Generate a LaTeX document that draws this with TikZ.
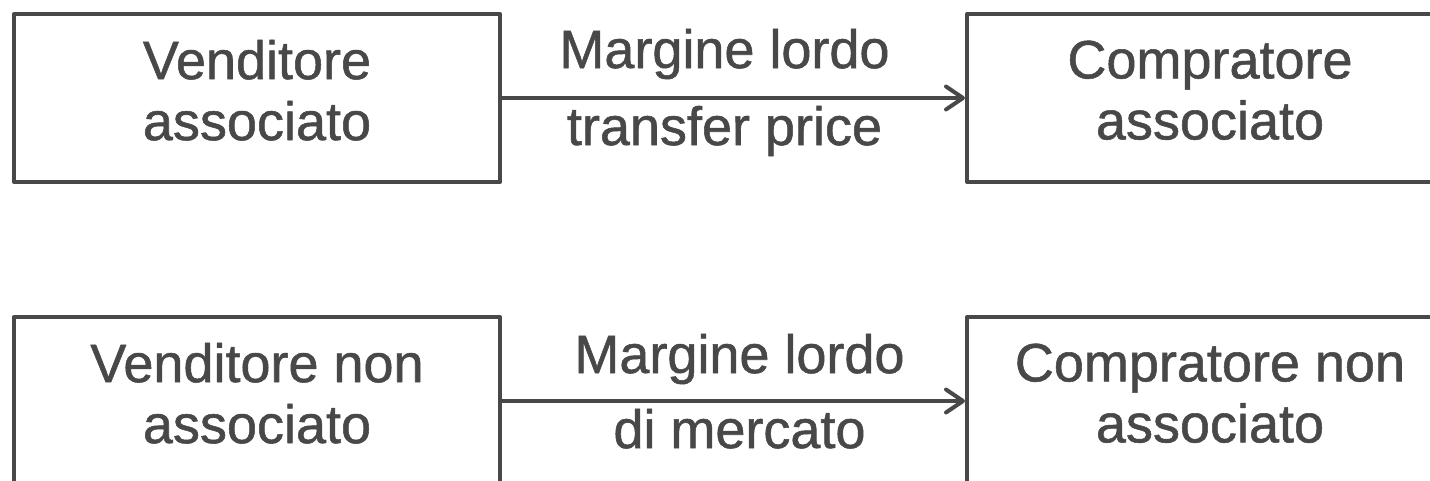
\documentclass[tikz,border=0pt]{standalone}
\usepackage{fontspec}
\setmainfont{Liberation Sans}[RawFeature={embolden=1}]
\usetikzlibrary{arrows.meta}
\definecolor{ink}{HTML}{484848}
\tikzset{
  box/.style={draw=ink, line width=4pt, line join=round, minimum width=486pt, minimum height=168pt,
    inner sep=0pt, align=center, text=ink, text depth=16pt,
    font=\fontsize{54}{61}\selectfont},
  lab/.style={anchor=base, text=ink, inner sep=0pt, font=\fontsize{54}{61}\selectfont},
  arr/.style={draw=ink, line width=4pt, -{Straight Barb[length=17pt,width=23pt,line cap=round,line join=round]}}
}
\begin{document}
\begin{tikzpicture}[x=1pt,y=-1pt]
\useasboundingbox (0,0) rectangle (1430,480);
\begin{scope}
\clip (0,0) rectangle (1430,480);
\node[box] (v1) at (257,98) {Venditore\\associato};
\node[box] (c1) at (1210,98) {Compratore\\associato};
\node[box] (v2) at (257,401) {Venditore non\\associato};
\node[box] (c2) at (1210,401) {Compratore non\\associato};
\draw[arr] (v1) -- node[lab, xshift=-9pt, yshift=30pt] (m1) {Margine lordo}
                   node[lab, xshift=-9pt, yshift=-47pt] (t1) {transfer price} (c1);
\draw[arr] (v2) -- node[lab, xshift=6pt, yshift=28pt] (m2) {Margine lordo}
                   node[lab, xshift=6pt, yshift=-47pt] (t2) {di mercato} (c2);
\end{scope}
\end{tikzpicture}
\end{document}
